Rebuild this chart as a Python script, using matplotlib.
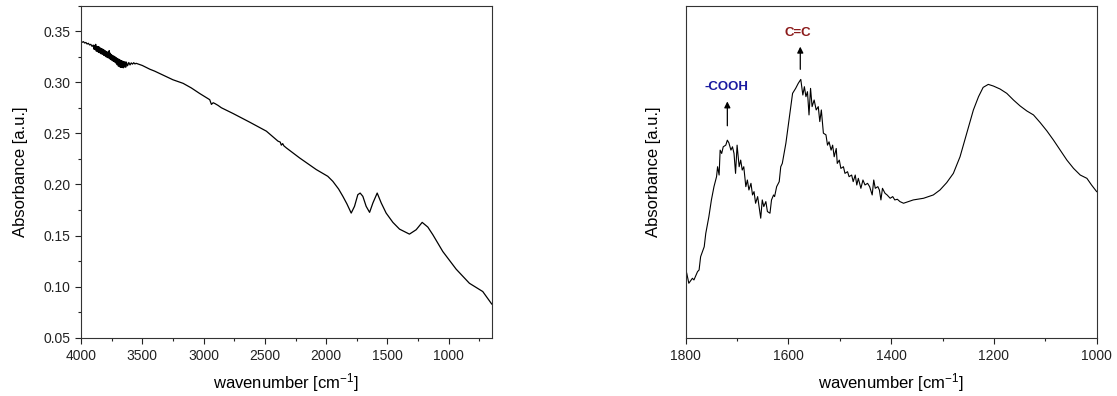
import numpy as np
import matplotlib.pyplot as plt
from matplotlib.ticker import MultipleLocator, NullLocator

plt.rcParams['font.family'] = ['Liberation Sans', 'DejaVu Sans']
plt.rcParams['mathtext.default'] = 'regular'

# full spectrum (left)
wn_full = [4000, 3990, 3980, 3970, 3960, 3950, 3940, 3930, 3920, 3910, 3900, 3895, 3890, 3885,
           3880, 3875, 3870, 3865, 3860, 3855, 3850, 3845, 3840, 3835, 3830, 3825, 3820, 3815,
           3810, 3805, 3800, 3795, 3790, 3785, 3780, 3775, 3770, 3765, 3760, 3755, 3750, 3745,
           3740, 3735, 3730, 3725, 3720, 3715, 3710, 3705, 3700, 3695, 3690, 3685, 3680, 3675,
           3670, 3665, 3660, 3655, 3650, 3645, 3640, 3635, 3630, 3620, 3610, 3600, 3590,
           3580, 3570, 3560, 3550, 3500, 3438, 3400, 3302, 3250, 3167, 3100, 3031, 2977, 2950,
           2936, 2922, 2909, 2882, 2855, 2760, 2624, 2488, 2393, 2375, 2366, 2355, 2345, 2325,
           2217, 2081, 1987, 1946, 1899, 1864, 1831, 1810, 1796, 1769, 1742, 1723, 1701, 1674,
           1646, 1619, 1584, 1551, 1511, 1456, 1402, 1321, 1266, 1217, 1171, 1130, 1049, 940,
           832, 723, 650]
abs_full = [0.3400, 0.3392, 0.3398, 0.3385, 0.3390, 0.3375, 0.3382, 0.3366, 0.3372, 0.3352,
            0.3365, 0.3325, 0.3362, 0.3320, 0.3372, 0.3305, 0.3352, 0.3300, 0.3350, 0.3292,
            0.3345, 0.3288, 0.3336, 0.3278, 0.3330, 0.3275, 0.3322, 0.3265, 0.3315, 0.3260,
            0.3308, 0.3250, 0.3300, 0.3242, 0.3295, 0.3238, 0.3310, 0.3230, 0.3285, 0.3222,
            0.3270, 0.3212, 0.3262, 0.3205, 0.3255, 0.3198, 0.3248, 0.3188, 0.3240, 0.3172,
            0.3232, 0.3158, 0.3225, 0.3152, 0.3218, 0.3146, 0.3212, 0.3145, 0.3208, 0.3142,
            0.3202, 0.3150, 0.3200, 0.3148, 0.3198, 0.3162, 0.3194, 0.3170, 0.3190, 0.3178,
            0.3192, 0.3180, 0.3186, 0.3165, 0.3128, 0.3110, 0.3055, 0.3025, 0.2990, 0.2945,
            0.2890, 0.2850, 0.2830, 0.2784, 0.2800, 0.2793, 0.2774, 0.2751, 0.2695, 0.2610,
            0.2522, 0.2424, 0.2415, 0.2385, 0.2400, 0.2378, 0.2358, 0.2260, 0.2146, 0.2080,
            0.2031, 0.1956, 0.1884, 0.1810, 0.1755, 0.1720, 0.1786, 0.1900, 0.1916, 0.1884,
            0.1786, 0.1727, 0.1819, 0.1916, 0.1819, 0.1720, 0.1629, 0.1563, 0.1514, 0.1557,
            0.1629, 0.1583, 0.1508, 0.1344, 0.1171, 0.1033, 0.0952, 0.0830]

# zoomed region (right), arbitrary units
wn_zoom = [1800, 1798, 1794, 1787, 1784, 1777, 1774, 1771, 1764, 1761, 1755, 1750, 1745, 1740,
           1738, 1735, 1733, 1730, 1727, 1722, 1719, 1716, 1712, 1709, 1706, 1703, 1700, 1696,
           1693, 1690, 1687, 1683, 1680, 1677, 1673, 1670, 1667, 1664, 1660, 1654, 1651, 1648,
           1644, 1641, 1636, 1633, 1629, 1627, 1623, 1618, 1615, 1612, 1605, 1599, 1592, 1586,
           1581, 1576, 1572, 1569, 1566, 1563, 1560, 1557, 1554, 1550, 1546, 1542, 1539, 1536,
           1532, 1527, 1524, 1521, 1517, 1514, 1511, 1507, 1505, 1501, 1498, 1493, 1490, 1485,
           1482, 1477, 1474, 1470, 1467, 1464, 1459, 1455, 1451, 1446, 1442, 1437, 1434, 1431,
           1426, 1423, 1420, 1417, 1412, 1408, 1402, 1397, 1393, 1388, 1383, 1376, 1357, 1337,
           1318, 1305, 1292, 1279, 1266, 1253, 1240, 1230, 1221, 1211, 1201, 1188, 1175, 1162,
           1149, 1136, 1123, 1110, 1097, 1084, 1071, 1058, 1045, 1032, 1019, 1010, 1000]
abs_zoom = [0.205, 0.194, 0.164, 0.179, 0.174, 0.199, 0.204, 0.244, 0.274, 0.314, 0.364, 0.415,
            0.455, 0.485, 0.515, 0.490, 0.565, 0.555, 0.575, 0.580, 0.595, 0.587, 0.565, 0.575,
            0.555, 0.495, 0.580, 0.515, 0.535, 0.505, 0.515, 0.455, 0.475, 0.445, 0.465, 0.430,
            0.440, 0.405, 0.425, 0.360, 0.415, 0.395, 0.410, 0.380, 0.375, 0.415, 0.430, 0.425,
            0.455, 0.470, 0.515, 0.525, 0.586, 0.656, 0.736, 0.751, 0.766, 0.778, 0.731, 0.756,
            0.726, 0.741, 0.671, 0.751, 0.696, 0.716, 0.686, 0.696, 0.651, 0.686, 0.616, 0.611,
            0.580, 0.590, 0.565, 0.580, 0.545, 0.570, 0.525, 0.535, 0.510, 0.515, 0.495, 0.500,
            0.485, 0.490, 0.470, 0.490, 0.460, 0.480, 0.450, 0.475, 0.460, 0.465, 0.455, 0.430,
            0.475, 0.450, 0.455, 0.445, 0.415, 0.450, 0.435, 0.430, 0.420, 0.425, 0.415, 0.417,
            0.410, 0.405, 0.415, 0.420, 0.430, 0.445, 0.467, 0.495, 0.545, 0.615, 0.686, 0.726,
            0.754, 0.763, 0.758, 0.749, 0.736, 0.716, 0.698, 0.683, 0.671, 0.648, 0.623, 0.595,
            0.565, 0.535, 0.510, 0.490, 0.480, 0.460, 0.440]

fig = plt.figure(figsize=(11.17, 3.96), dpi=100)
ax1 = fig.add_axes([0.0725, 0.1472, 0.3677, 0.8384])
ax2 = fig.add_axes([0.6139, 0.1472, 0.3679, 0.8384])

ax1.plot(wn_full, abs_full, color='black', lw=0.9)
ax1.set_xlim(4000, 650)
ax1.set_ylim(0.05, 0.375)
ax1.xaxis.set_major_locator(MultipleLocator(500))
ax1.xaxis.set_minor_locator(MultipleLocator(250))
ax1.yaxis.set_minor_locator(MultipleLocator(0.025))
ax1.set_yticks([0.05, 0.10, 0.15, 0.20, 0.25, 0.30, 0.35])
ax1.set_yticklabels(['0.05', '0.10', '0.15', '0.20', '0.25', '0.30', '0.35'])

ax2.plot(wn_zoom, abs_zoom, color='black', lw=0.8)
ax2.set_xlim(1800, 1000)
ax2.set_ylim(0, 1)
ax2.xaxis.set_major_locator(MultipleLocator(200))
ax2.xaxis.set_minor_locator(MultipleLocator(100))
ax2.yaxis.set_major_locator(NullLocator())

ax2.annotate('', xy=(1719, 0.72), xytext=(1719, 0.63),
             arrowprops=dict(arrowstyle='-|>', color='black', lw=0.9, mutation_scale=9))
ax2.text(1721, 0.755, '-COOH', color='#1a1aa0', fontsize=9.5, fontweight='bold', ha='center', va='center')
ax2.annotate('', xy=(1577, 0.885), xytext=(1577, 0.80),
             arrowprops=dict(arrowstyle='-|>', color='black', lw=0.9, mutation_scale=9))
ax2.text(1581, 0.918, 'C=C', color='#8b1a1a', fontsize=9.5, fontweight='bold', ha='center', va='center')

for ax in (ax1, ax2):
    for s in ax.spines.values():
        s.set_linewidth(0.8)
        s.set_color('#333333')
    ax.tick_params(which='both', direction='out', top=False, right=False, labelsize=10, colors='#222222')
    ax.tick_params(which='major', length=4.3, width=0.8)
    ax.tick_params(which='minor', length=2.2, width=0.8)
    ax.set_xlabel('wavenumber [cm$^{-1}$]', fontsize=12, labelpad=6)

ax1.set_ylabel('Absorbance [a.u.]', fontsize=12, labelpad=11)
ax2.set_ylabel('Absorbance [a.u.]', fontsize=12, labelpad=18)

fig.savefig('out.png', dpi=100)
